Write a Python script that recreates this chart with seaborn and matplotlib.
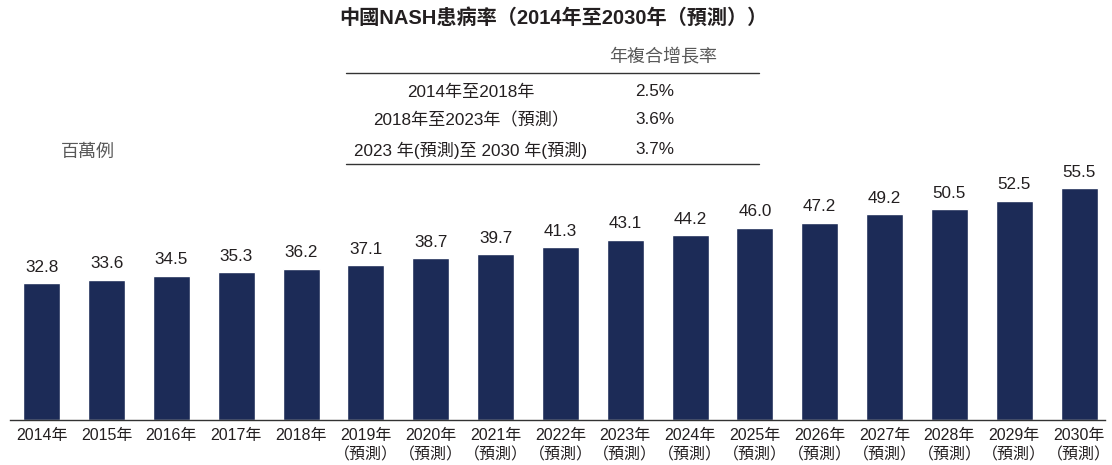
import matplotlib
matplotlib.use("Agg")
import matplotlib.pyplot as plt
import seaborn as sns
import pandas as pd

years = ["2014年", "2015年", "2016年", "2017年", "2018年", "2019年\n（預測）", "2020年\n（預測）",
         "2021年\n（預測）", "2022年\n（預測）", "2023年\n（預測）", "2024年\n（預測）", "2025年\n（預測）",
         "2026年\n（預測）", "2027年\n（預測）", "2028年\n（預測）", "2029年\n（預測）", "2030年\n（預測）"]
values = [32.8, 33.6, 34.5, 35.3, 36.2, 37.1, 38.7, 39.7, 41.3, 43.1, 44.2, 46.0, 47.2, 49.2, 50.5, 52.5, 55.5]
periods = ["2014年至2018年", "2018年至2023年（預測）", "2023 年(預測)至 2030 年(預測)"]
cagr = ["2.5%", "3.6%", "3.7%"]
title = "中國NASH患病率（2014年至2030年（預測））"
unit = "百萬例"
cagr_header = "年複合增長率"

sns.set_theme(style="white")
plt.rcParams['font.family'] = ['Liberation Sans', 'Noto Sans CJK TC', 'DejaVu Sans']

W, H = 1112, 465
fig = plt.figure(figsize=(W / 100, H / 100), dpi=100)
ax_left, ax_right, ax_top, ax_bottom = 10, 1105, 160, 420
ax = fig.add_axes([ax_left / W, 1 - ax_bottom / H, (ax_right - ax_left) / W, (ax_bottom - ax_top) / H])

df = pd.DataFrame({"year": years, "value": values})
bar_color = "#1c2b57"
sns.barplot(data=df, x="year", y="value", color=bar_color, width=0.57, ax=ax, saturation=1)

ax.set_xlim(-0.49, 16.4)
ax.set_ylim(0, 62.2)
ax.set_xlabel("")
ax.set_ylabel("")
ax.set_yticks([])
for s in ["top", "right", "left"]:
    ax.spines[s].set_visible(False)
ax.spines["bottom"].set_color("#333333")
ax.spines["bottom"].set_linewidth(1.0)
ax.tick_params(axis="x", length=0, pad=6, labelsize=11.5, colors="#231f20")
for lbl in ax.get_xticklabels():
    lbl.set_linespacing(1.3)

txt = "#231f20"
for i, v in enumerate(values):
    ax.text(i, v + 2.0, f"{v:.1f}", ha="center", va="bottom", fontsize=12.3, color=txt)

def fx(px):
    return px / W

def fy(py):
    return 1 - py / H

fig.text(fx(553), fy(18), title, ha="center", va="center", fontsize=14.5, fontweight="bold", color=txt)
fig.text(fx(88), fy(152), unit, ha="center", va="center", fontsize=13, color="#595959")

fig.text(fx(663), fy(58), cagr_header, ha="center", va="center", fontsize=13, color="#595959")
fig.add_artist(plt.Line2D([fx(346), fx(759)], [fy(73), fy(73)], color="#333333", lw=1.0))
fig.add_artist(plt.Line2D([fx(346), fx(759)], [fy(164), fy(164)], color="#333333", lw=1.0))
row_y = [92, 120, 150]
for p, c, y in zip(periods, cagr, row_y):
    fig.text(fx(471), fy(y), p, ha="center", va="center", fontsize=12.3, color=txt)
    fig.text(fx(635), fy(y), c, ha="left", va="center", fontsize=12.3, color=txt)

fig.savefig("out.png", dpi=100)
